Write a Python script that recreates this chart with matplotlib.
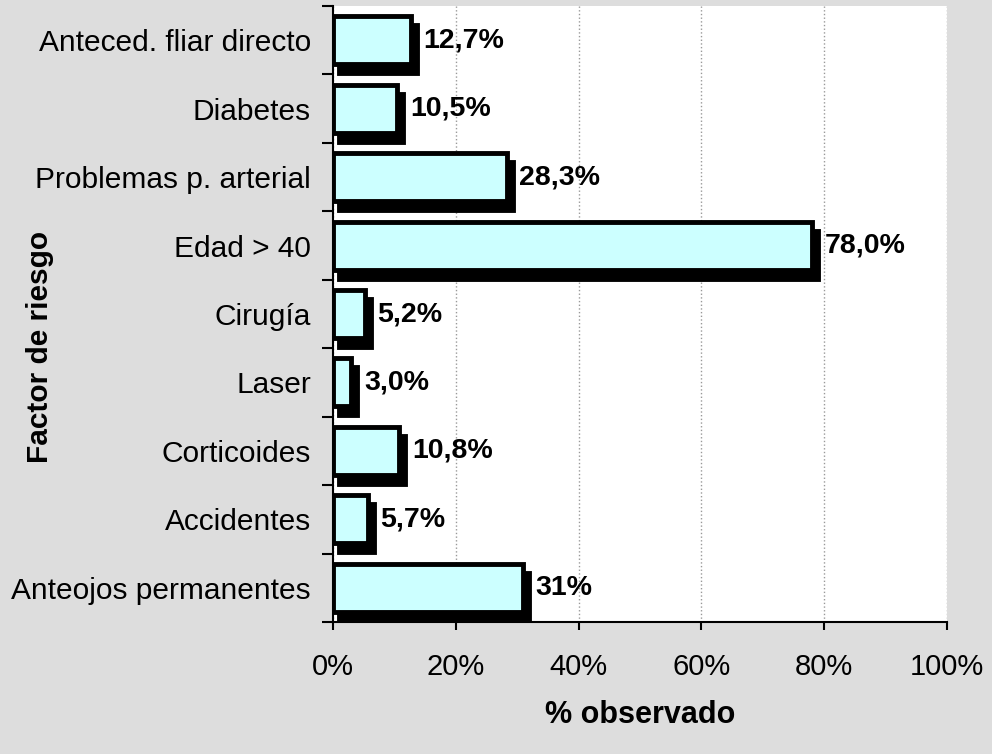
import matplotlib
matplotlib.use("Agg")
import matplotlib.pyplot as plt
import matplotlib.transforms as mtransforms
import numpy as np

categories = ["Anteced. fliar directo", "Diabetes", "Problemas p. arterial",
              "Edad > 40", "Cirugía", "Laser", "Corticoides", "Accidentes",
              "Anteojos permanentes"]
values = [12.7, 10.5, 28.3, 78.0, 5.2, 3.0, 10.8, 5.7, 31.0]
value_labels = ["12,7%", "10,5%", "28,3%", "78,0%", "5,2%", "3,0%", "10,8%", "5,7%", "31%"]
xticks = [0, 20, 40, 60, 80, 100]
xtick_labels = ["0%", "20%", "40%", "60%", "80%", "100%"]

plt.rcParams['font.family'] = ['Liberation Sans', 'DejaVu Sans']

fig = plt.figure(figsize=(9.92, 7.54), dpi=100)
fig.patch.set_facecolor('#DDDDDD')
ax = fig.add_axes([333/992, 1-622/754, (947-333)/992, (622-6)/754])
ax.set_facecolor('white')

y = np.arange(len(categories))
h = 0.7
shadow_tr = mtransforms.offset_copy(ax.transData, fig=fig, x=6, y=-9, units='dots')
ax.barh(y, values, height=h, color='black', edgecolor='black', linewidth=3.5,
        transform=shadow_tr, zorder=2)
ax.barh(y, values, height=h, color='#CCFFFF', edgecolor='black', linewidth=3.5, zorder=3)

for yi, v, lab in zip(y, values, value_labels):
    ax.annotate(lab, xy=(v, yi), xytext=(9, 0), textcoords='offset points',
                ha='left', va='center', fontsize=20.5, fontweight='bold', zorder=4)

ax.set_xlim(0, 100)
ax.set_ylim(len(categories) - 0.5, -0.5)

ax.set_xticks(xticks)
ax.set_xticklabels(xtick_labels, fontsize=21)
ax.tick_params(axis='x', direction='out', length=6, width=1.5, pad=16)

ax.set_yticks(y)
ax.set_yticklabels(categories, fontsize=21.5)
ax.tick_params(axis='y', which='major', length=0, pad=16)
ax.set_yticks(np.arange(len(categories) + 1) - 0.5, minor=True)
ax.tick_params(axis='y', which='minor', direction='out', length=8, width=1.5)

ax.xaxis.grid(True, color='#999999', linestyle=':', linewidth=1, zorder=0)
ax.set_axisbelow(True)

for s in ['top', 'right']:
    ax.spines[s].set_visible(False)
for s in ['left', 'bottom']:
    ax.spines[s].set_linewidth(1.5)
    ax.spines[s].set_color('black')

ax.set_xlabel('% observado', fontsize=22, fontweight='bold')
ax.xaxis.set_label_coords(0.5, (622-715)/616)
ax.xaxis.label.set_va('center')
ax.set_ylabel('Factor de riesgo', fontsize=21.5, fontweight='bold')
ax.yaxis.set_label_coords((40-333)/614, (622-347)/616)
ax.yaxis.label.set_va('center')

fig.savefig('out.png', dpi=100, facecolor=fig.get_facecolor())
